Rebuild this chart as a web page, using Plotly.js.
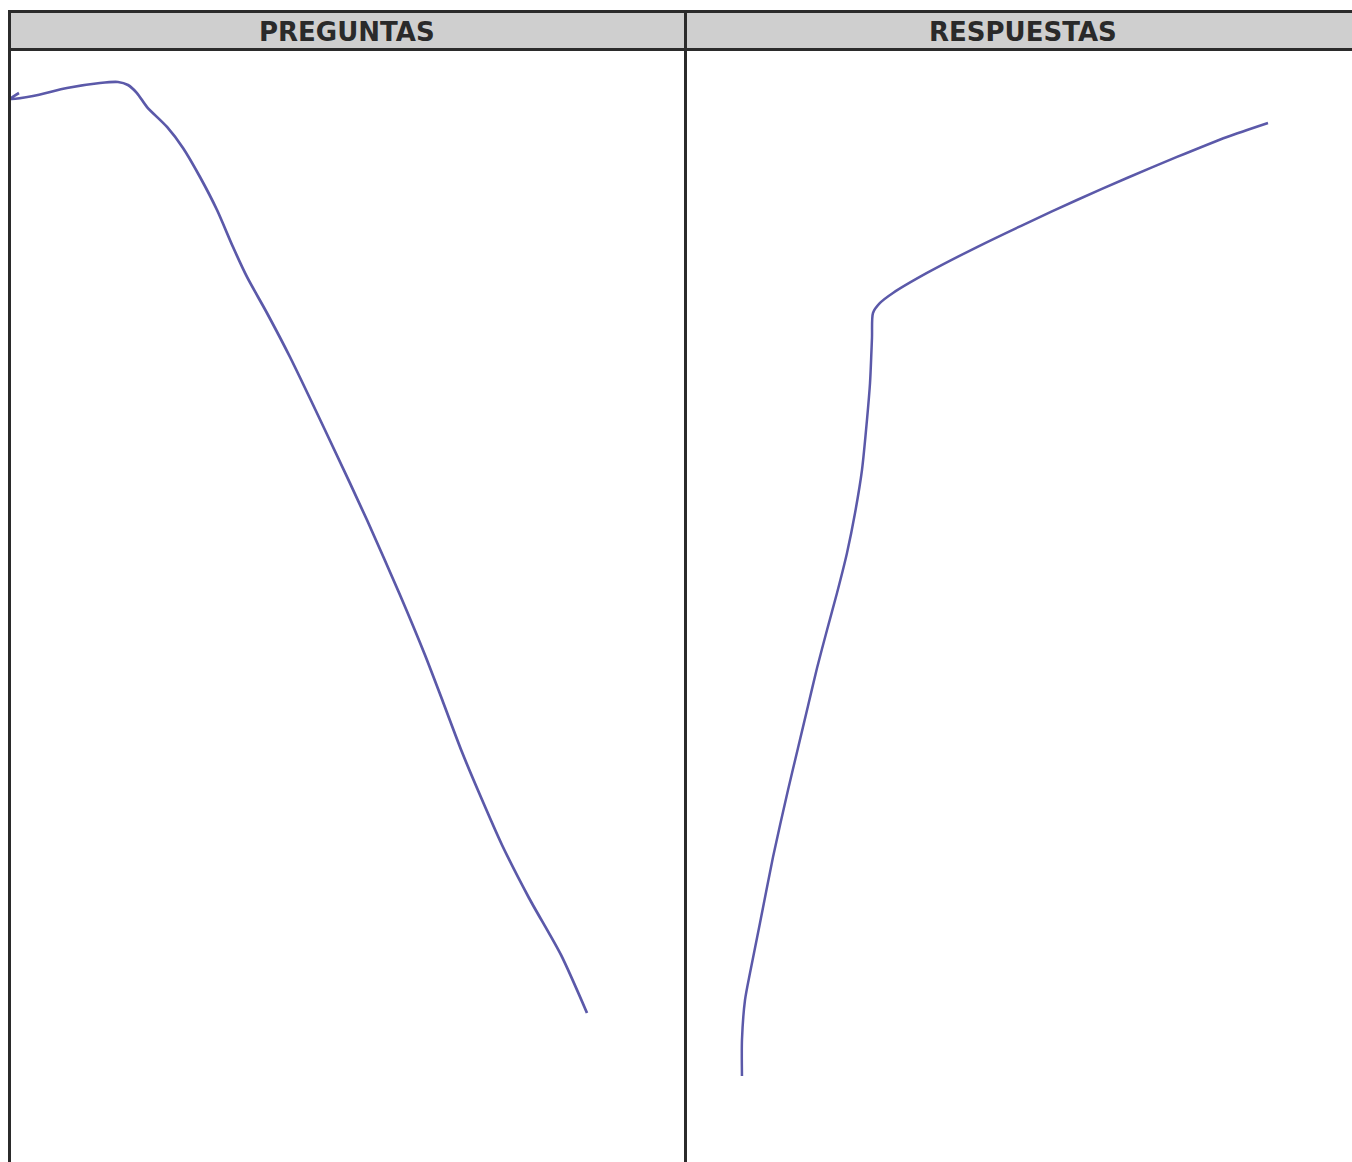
<!DOCTYPE html>
<html>
<head>
<meta charset="utf-8">
<script src="https://cdn.plot.ly/plotly-3.0.1.min.js"></script>
<style>
  html, body { margin: 0; padding: 0; background: #ffffff; }
  #chart { width: 1352px; height: 1162px; }
</style>
</head>
<body>
<div id="chart"></div>
<script>
// Column headers of the table
const columnHeaders = ['PREGUNTAS', 'RESPUESTAS'];

// Hand-drawn curve in the PREGUNTAS column (x: 0-100 across the column, y: 0-100 bottom to top)
const preguntasX = [1.33, 0.0, 3.41, 8.44, 13.33, 16.0, 17.48, 18.81, 20.30, 23.26, 25.63, 28.15, 30.67, 33.04, 35.11, 38.07, 41.48, 47.85, 52.89, 57.78, 61.48, 64.15, 66.96, 69.63, 72.89, 76.89, 81.63, 85.48];
const preguntasY = [96.13, 95.59, 95.86, 96.58, 97.03, 97.12, 96.85, 96.13, 94.87, 93.08, 91.19, 88.58, 85.61, 82.28, 79.59, 76.35, 72.39, 64.30, 57.73, 50.99, 45.59, 41.37, 36.87, 33.00, 28.51, 23.74, 18.62, 13.40];

// Hand-drawn curve in the RESPUESTAS column
const respuestasX = [8.44, 8.44, 8.89, 9.63, 11.11, 13.04, 15.26, 16.74, 18.22, 19.56, 21.04, 22.52, 24.00, 25.19, 26.22, 26.96, 27.41, 27.70, 27.85, 28.89, 30.81, 35.85, 43.26, 50.67, 58.07, 65.48, 72.89, 80.30, 86.37];
const respuestasY = [7.73, 10.97, 14.57, 17.00, 21.49, 27.43, 33.45, 37.23, 41.01, 44.42, 47.84, 51.17, 54.77, 58.36, 62.23, 66.73, 70.05, 74.10, 76.35, 77.25, 78.15, 79.95, 82.28, 84.44, 86.51, 88.49, 90.38, 92.18, 93.44];

const W = 1352, H = 1162;
const px = v => v / W;          // pixel -> paper x
const py = v => 1 - v / H;      // pixel -> paper y

const penColor = '#5b59a9';
const borderColor = '#2b2b2b';

const traces = [
  {
    x: preguntasX, y: preguntasY, xaxis: 'x', yaxis: 'y',
    type: 'scatter', mode: 'lines',
    line: { color: penColor, width: 2.7, shape: 'spline', smoothing: 0.7 },
    hoverinfo: 'skip', showlegend: false
  },
  {
    x: respuestasX, y: respuestasY, xaxis: 'x2', yaxis: 'y',
    type: 'scatter', mode: 'lines',
    line: { color: penColor, width: 2.5, shape: 'spline', smoothing: 0.7 },
    hoverinfo: 'skip', showlegend: false
  }
];

const hiddenAxis = { visible: false, showgrid: false, zeroline: false, fixedrange: true };

const layout = {
  width: W, height: H,
  margin: { l: 0, r: 0, t: 0, b: 0 },
  paper_bgcolor: '#ffffff',
  plot_bgcolor: 'rgba(0,0,0,0)',
  showlegend: false,
  xaxis: Object.assign({}, hiddenAxis, { domain: [px(10), px(685)], range: [0, 100] }),
  xaxis2: Object.assign({}, hiddenAxis, { domain: [px(685), 1], range: [0, (W - 685) / 6.75], anchor: 'y' }),
  yaxis: Object.assign({}, hiddenAxis, { domain: [0, py(50)], range: [0, 100] }),
  shapes: [
    // header band
    { type: 'rect', xref: 'paper', yref: 'paper', x0: px(9), x1: 1, y0: py(50), y1: py(11),
      fillcolor: '#cfcfcf', line: { width: 0 }, layer: 'below' },
    // top border
    { type: 'line', xref: 'paper', yref: 'paper', x0: px(8), x1: 1, y0: py(11.5), y1: py(11.5),
      line: { color: borderColor, width: 3 } },
    // header bottom border
    { type: 'line', xref: 'paper', yref: 'paper', x0: px(8), x1: 1, y0: py(49.5), y1: py(49.5),
      line: { color: borderColor, width: 3 } },
    // left border
    { type: 'line', xref: 'paper', yref: 'paper', x0: px(9.5), x1: px(9.5), y0: py(10), y1: 0,
      line: { color: borderColor, width: 3 } },
    // column divider
    { type: 'line', xref: 'paper', yref: 'paper', x0: px(685.5), x1: px(685.5), y0: py(10), y1: 0,
      line: { color: borderColor, width: 3 } }
  ],
  annotations: [
    { text: '<b>' + columnHeaders[0] + '</b>', xref: 'paper', yref: 'paper',
      x: px(347), y: py(32), xanchor: 'center', yanchor: 'middle', showarrow: false,
      font: { family: 'DejaVu Sans', size: 26, color: '#2a2a2a' } },
    { text: '<b>' + columnHeaders[1] + '</b>', xref: 'paper', yref: 'paper',
      x: px(1023), y: py(32), xanchor: 'center', yanchor: 'middle', showarrow: false,
      font: { family: 'DejaVu Sans', size: 26, color: '#2a2a2a' } }
  ]
};

Plotly.newPlot('chart', traces, layout, { staticPlot: true, displayModeBar: false });
</script>
</body>
</html>
